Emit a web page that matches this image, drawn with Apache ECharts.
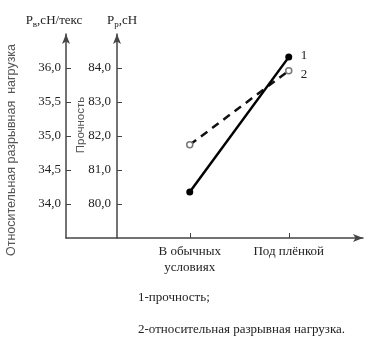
<!DOCTYPE html>
<html>
<head>
<meta charset="utf-8">
<script src="https://cdn.jsdelivr.net/npm/echarts@6/dist/echarts.min.js"></script>
<style>
  html, body { margin: 0; padding: 0; background: #fff; }
  #chart { width: 371px; height: 343px; }
</style>
</head>
<body>
<div id="chart"></div>
<script>
// conditions on the x axis
const categories = ['В обычных\nусловиях', 'Под плёнкой'];
// 1 - прочность, сН (right inner axis)
const strength = [80.35, 84.32];
// 2 - относительная разрывная нагрузка, сН/текс (outer axis)
const relLoad = [34.87, 35.96];
const loadTicks = [34, 34.5, 35, 35.5, 36];
const strengthTicks = [80, 81, 82, 83, 84];

const serif = 'Liberation Serif';
const sans = 'Liberation Sans';
const fmt = v => v.toFixed(1).replace('.', ',');

const myChart = echarts.init(document.getElementById('chart'));

const axisLine = {
  show: true,
  onZero: false,
  symbol: ['none', 'arrow'],
  symbolSize: [6, 10],
  lineStyle: { color: '#444', width: 1.5 }
};

myChart.setOption({
  animation: false,
  grid: { left: 66, right: 8, top: 34, bottom: 105 },
  xAxis: {
    type: 'value',
    min: -1.25,
    max: 1.75,
    splitLine: { show: false },
    axisLine: axisLine,
    axisTick: {
      show: true,
      inside: true,
      length: 5,
      customValues: [0, 1],
      lineStyle: { color: '#444' }
    },
    axisLabel: {
      customValues: [0, 1],
      formatter: v => categories[v],
      fontFamily: serif,
      fontSize: 13,
      lineHeight: 16,
      color: '#222',
      margin: 6
    }
  },
  yAxis: [
    {
      type: 'value',
      min: 33.5,
      max: 36.5,
      position: 'left',
      name: 'P{s|в},сН/текс',
      nameGap: 5,
      nameTextStyle: {
        fontFamily: serif,
        fontSize: 13,
        color: '#222',
        padding: [0, 24, 0, 0],
        rich: { s: { fontFamily: serif, fontSize: 9, color: '#222', padding: [8, 0, 0, 0] } }
      },
      splitLine: { show: false },
      axisLine: axisLine,
      axisTick: { show: true, inside: true, length: 5, customValues: loadTicks, lineStyle: { color: '#444' } },
      axisLabel: {
        customValues: loadTicks,
        formatter: fmt,
        fontFamily: serif,
        fontSize: 13,
        color: '#222',
        margin: 5
      }
    },
    {
      type: 'value',
      min: 79,
      max: 85,
      position: 'left',
      offset: -51,
      name: 'P{s|р},сН',
      nameGap: 5,
      nameTextStyle: {
        fontFamily: serif,
        fontSize: 13,
        color: '#222',
        padding: [0, 0, 0, 10],
        rich: { s: { fontFamily: serif, fontSize: 9, color: '#222', padding: [8, 0, 0, 0] } }
      },
      splitLine: { show: false },
      axisLine: axisLine,
      axisTick: { show: true, inside: true, length: 5, customValues: strengthTicks, lineStyle: { color: '#444' } },
      axisLabel: {
        customValues: strengthTicks,
        formatter: fmt,
        fontFamily: serif,
        fontSize: 13,
        color: '#222',
        margin: 6
      }
    }
  ],
  series: [
    {
      name: 'относительная разрывная нагрузка',
      type: 'line',
      yAxisIndex: 0,
      data: relLoad.map((v, i) => [i, v]),
      symbol: 'circle',
      symbolSize: 6,
      itemStyle: { color: '#fff', borderColor: '#777', borderWidth: 1.5 },
      lineStyle: { color: '#111', width: 2.5, type: [8, 6] },
      endLabel: {
        show: true,
        formatter: '2',
        fontFamily: serif,
        fontSize: 13,
        color: '#222',
        offset: [4, 4]
      },
      z: 2
    },
    {
      name: 'прочность',
      type: 'line',
      yAxisIndex: 1,
      data: strength.map((v, i) => [i, v]),
      symbol: 'circle',
      symbolSize: 7,
      itemStyle: { color: '#000' },
      lineStyle: { color: '#000', width: 2.5 },
      endLabel: {
        show: true,
        formatter: '1',
        fontFamily: serif,
        fontSize: 13,
        color: '#222',
        offset: [4, -2]
      },
      z: 3
    }
  ],
  graphic: [
    {
      type: 'text',
      x: 12,
      y: 150,
      rotation: Math.PI / 2,
      style: {
        text: 'Относительная разрывная  нагрузка',
        fontFamily: sans,
        fontSize: 12.5,
        fill: '#555',
        align: 'center',
        verticalAlign: 'middle'
      }
    },
    {
      type: 'text',
      x: 81,
      y: 125,
      rotation: Math.PI / 2,
      style: {
        text: 'Прочность',
        fontFamily: sans,
        fontSize: 11.5,
        fill: '#555',
        align: 'center',
        verticalAlign: 'middle'
      }
    },
    {
      type: 'text',
      left: 138,
      top: 291,
      style: { text: '1-прочность;', fontFamily: serif, fontSize: 13, fill: '#222' }
    },
    {
      type: 'text',
      left: 138,
      top: 323,
      style: { text: '2-относительная разрывная нагрузка.', fontFamily: serif, fontSize: 13, fill: '#222' }
    }
  ]
});
</script>
</body>
</html>
